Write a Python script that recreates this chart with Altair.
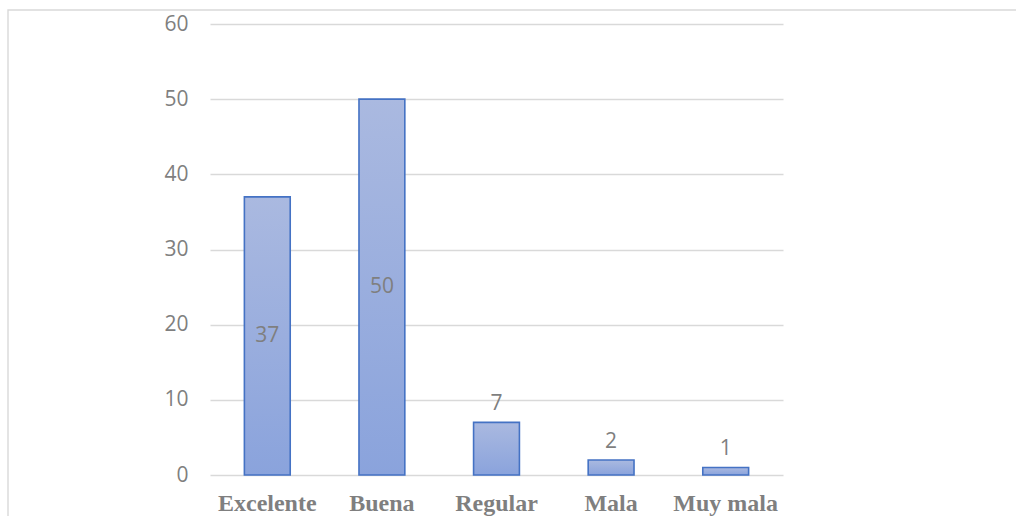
import altair as alt
import pandas as pd

# Survey answers and counts
categories = ["Excelente", "Buena", "Regular", "Mala", "Muy mala"]
counts = [37, 50, 7, 2, 1]

df = pd.DataFrame({"categoria": categories, "total": counts})

W, H = 573, 451
GRAY = "#7f7f7f"
GRID = "#d9d9d9"

x_enc = alt.X(
    "categoria:N",
    sort=categories,
    scale=alt.Scale(paddingInner=0.6, paddingOuter=0.3),
    axis=alt.Axis(
        title=None, labelAngle=0, domain=False, ticks=False, grid=False,
        labelFont="Liberation Serif", labelFontWeight="bold",
        labelFontSize=24, labelColor=GRAY, labelPadding=16,
    ),
)
y_scale = alt.Scale(domain=[0, 60], nice=False)

bars = alt.Chart(df).mark_bar(
    color=alt.Gradient(
        gradient="linear", x1=0, y1=0, x2=0, y2=1,
        stops=[alt.GradientStop(color="#aab9e0", offset=0),
               alt.GradientStop(color="#8aa3dc", offset=1)],
    ),
    stroke="#4472c4", strokeWidth=1.6,
).encode(
    x=x_enc,
    y=alt.Y(
        "total:Q", scale=y_scale,
        axis=alt.Axis(
            title=None, values=[0, 10, 20, 30, 40, 50, 60],
            domain=False, ticks=False, grid=True,
            gridColor=GRID, gridWidth=1.3,
            labelFont="Open Sans", labelFontSize=21, labelColor=GRAY,
            labelPadding=22,
        ),
    ),
)

# Large bars carry their value in the middle, small bars above the top
inside = alt.Chart(df).transform_filter("datum.total >= 20").transform_calculate(
    mid="datum.total / 2"
).mark_text(font="Open Sans", fontSize=21, color=GRAY, baseline="middle").encode(
    x=alt.X("categoria:N", sort=categories),
    y=alt.Y("mid:Q", scale=y_scale),
    text="total:Q",
)
above = alt.Chart(df).transform_filter("datum.total < 20").mark_text(
    font="Open Sans", fontSize=21, color=GRAY, baseline="middle", dy=-18
).encode(
    x=alt.X("categoria:N", sort=categories),
    y=alt.Y("total:Q", scale=y_scale),
    text="total:Q",
)

# Light frame around the figure
frame = alt.Chart(df).transform_filter("datum.categoria == 'Excelente'").mark_rect(
    fill=None, stroke=GRID, strokeWidth=1.4, clip=False
).encode(
    x=alt.value(-202), x2=alt.value(830),
    y=alt.value(-14), y2=alt.value(520),
)

chart = alt.layer(frame, bars, inside, above).properties(
    width=W, height=H,
    autosize=alt.AutoSizeParams(type="none"),
    padding={"left": 210, "top": 24, "right": 233, "bottom": 41},
).configure(background="white").configure_view(stroke=None)

chart.save("out.html", embed_options={"renderer": "svg", "actions": False})
